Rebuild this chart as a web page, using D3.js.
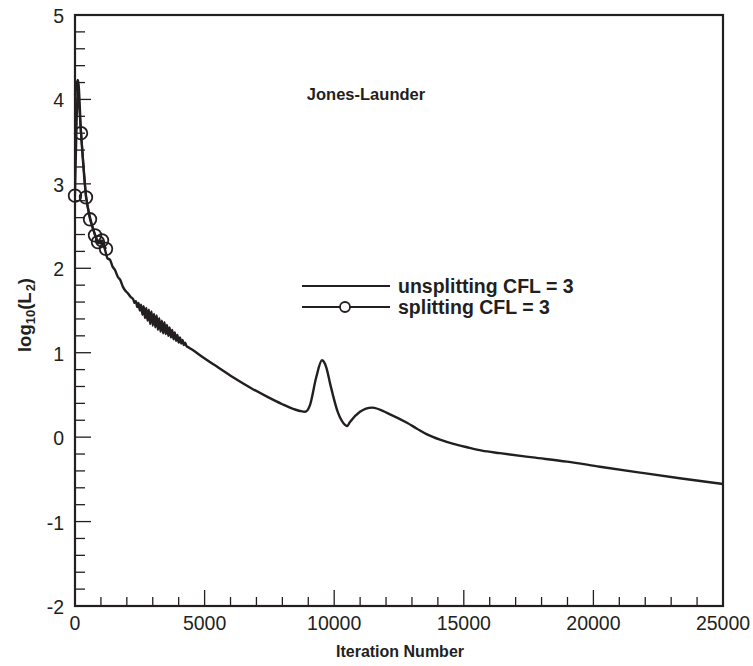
<!DOCTYPE html>
<html>
<head>
<meta charset="utf-8">
<script src="https://cdn.jsdelivr.net/npm/d3@7"></script>
<style>
  body { margin: 0; background: #fff; }
  text { font-family: "Liberation Sans", Arial, sans-serif; fill: #231f20; }
</style>
</head>
<body>
<script>
// iteration, log10(L2)
let unsplitIter = [0, 115, 231, 424, 579, 772, 900, 1042, 1157, 1250, 1350, 1450, 1543, 1650, 1750,
  1850, 1929, 2050, 2150,
  2250, 2300, 2350, 2400, 2450, 2500, 2550, 2600, 2650, 2700, 2750, 2800, 2850, 2900, 2950,
  3000, 3050, 3100, 3150, 3200, 3250, 3300, 3350, 3400, 3450, 3500, 3550, 3600, 3650, 3700,
  3750, 3800, 3850, 3900, 3950, 4000, 4050, 4100, 4150, 4200, 4250, 4300, 4400, 4600,
  4823, 5500, 6096, 6800, 7407, 8000, 8295, 8681, 8874, 9066, 9300, 9529, 9700, 9838, 10146, 10400,
  10493, 10609, 10995, 11459, 12153, 12808, 13194, 13600, 14081, 14600, 15123, 15700, 16396,
  17669, 18981, 20250, 21800, 23400, 25000];
let unsplitVal = [4.05, 4.23, 3.62, 2.86, 2.6, 2.4, 2.3, 2.3, 2.22, 2.12, 2.1, 2.02, 1.98, 1.9, 1.86,
  1.78, 1.74, 1.7, 1.66,
  1.63, 1.59, 1.61, 1.54, 1.59, 1.5, 1.57, 1.45, 1.55, 1.41, 1.53, 1.38, 1.51, 1.34, 1.49,
  1.32, 1.46, 1.3, 1.44, 1.27, 1.41, 1.25, 1.38, 1.23, 1.36, 1.22, 1.33, 1.2, 1.3, 1.18,
  1.27, 1.16, 1.24, 1.14, 1.21, 1.12, 1.18, 1.11, 1.15, 1.09, 1.12, 1.08, 1.06, 1.02,
  0.97, 0.83, 0.71, 0.58, 0.48, 0.39, 0.35, 0.31, 0.3, 0.38, 0.7, 0.91, 0.82, 0.64, 0.29, 0.15,
  0.13, 0.18, 0.3, 0.35, 0.27, 0.17, 0.1, 0.03, -0.03, -0.08, -0.12, -0.16, -0.19,
  -0.24, -0.29, -0.35, -0.42, -0.49, -0.555];

let splitIter = [0, 100, 231, 424, 579, 772, 887, 1042, 1196];
let splitVal = [2.86, 4.2, 3.6, 2.84, 2.58, 2.39, 2.31, 2.33, 2.23];
let splitMarked = [0, 231, 424, 579, 772, 887, 1042, 1196];

let xTicks = [0, 5000, 10000, 15000, 20000, 25000];
let yTicks = [-2, -1, 0, 1, 2, 3, 4, 5];
let legendLabels = ["unsplitting CFL = 3", "splitting CFL = 3"];

let width = 753, height = 666;
let mLeft = 75, mRight = 723, mTop = 15, mBottom = 606;

let svg = d3.select("body").append("svg")
  .attr("width", width)
  .attr("height", height);

let x = d3.scaleLinear().domain([0, 25000]).range([mLeft, mRight]);
let y = d3.scaleLinear().domain([-2, 5]).range([mBottom, mTop]);

// minor ticks
let xMinor = d3.range(0, 25001, 1000);
let yMinor = d3.range(-2, 5.001, 0.2);

let ink = "#231f20";

svg.append("g").selectAll("line")
  .data(xMinor)
  .enter().append("line")
  .attr("x1", d => x(d)).attr("x2", d => x(d))
  .attr("y1", mBottom).attr("y2", d => xTicks.includes(d) ? mBottom - 16 : mBottom - 9)
  .attr("stroke", ink).attr("stroke-width", 1.3);

svg.append("g").selectAll("line")
  .data(yMinor)
  .enter().append("line")
  .attr("y1", d => y(d)).attr("y2", d => y(d))
  .attr("x1", mLeft).attr("x2", d => Math.abs(d - Math.round(d)) < 1e-6 ? mLeft + 16 : mLeft + 10)
  .attr("stroke", ink).attr("stroke-width", 1.3);

// frame
svg.append("rect")
  .attr("x", mLeft).attr("y", mTop)
  .attr("width", mRight - mLeft).attr("height", mBottom - mTop)
  .attr("fill", "none").attr("stroke", ink).attr("stroke-width", 2.2);

// tick labels
svg.append("g").selectAll("text")
  .data(xTicks)
  .enter().append("text")
  .attr("x", d => x(d)).attr("y", mBottom + 24)
  .attr("text-anchor", "middle")
  .attr("font-size", 19.5)
  .text(d => d);

svg.append("g").selectAll("text")
  .data(yTicks)
  .enter().append("text")
  .attr("x", mLeft - 11).attr("y", d => y(d) + 8)
  .attr("text-anchor", "end")
  .attr("font-size", 19.5)
  .text(d => d);

// axis titles
svg.append("text")
  .attr("x", (mLeft + mRight) / 2 + 1).attr("y", 657)
  .attr("text-anchor", "middle")
  .attr("font-size", 16).attr("font-weight", "bold")
  .text("Iteration Number");

let ylab = svg.append("text")
  .attr("transform", "translate(31,315) rotate(-90)")
  .attr("text-anchor", "middle")
  .attr("font-size", 18.5).attr("font-weight", "bold");
ylab.append("tspan").text("log");
ylab.append("tspan").attr("font-size", 13).attr("dy", 4).text("10");
ylab.append("tspan").attr("dy", -4).text("(L");
ylab.append("tspan").attr("font-size", 13).attr("dy", 4).attr("dx", 1).text("2");
ylab.append("tspan").attr("dy", -4).text(")");

svg.append("text")
  .attr("x", 366).attr("y", 100)
  .attr("text-anchor", "middle")
  .attr("font-size", 16.5).attr("font-weight", "bold")
  .text("Jones-Launder");

// curves
let line = d3.line()
  .curve(d3.curveMonotoneX)
  .x(d => x(d[0]))
  .y(d => y(d[1]));

let unsplit = unsplitIter.map((d, i) => [d, unsplitVal[i]]);
let split = splitIter.map((d, i) => [d, splitVal[i]]);

svg.append("path")
  .datum(unsplit)
  .attr("d", line)
  .attr("fill", "none").attr("stroke", ink).attr("stroke-width", 2.4)
  .attr("stroke-linejoin", "round");

svg.append("path")
  .datum(split)
  .attr("d", line.curve(d3.curveLinear))
  .attr("fill", "none").attr("stroke", ink).attr("stroke-width", 2.2)
  .attr("stroke-linejoin", "round");

svg.append("g").selectAll("circle")
  .data(split.filter(d => splitMarked.includes(d[0])))
  .enter().append("circle")
  .attr("cx", d => x(d[0])).attr("cy", d => y(d[1]))
  .attr("r", 6.3)
  .attr("fill", "none").attr("stroke", ink).attr("stroke-width", 1.8);

// legend
let legend = svg.append("g");
legendLabels.forEach(function(label, i) {
  let ly = 286 + i * 21;
  legend.append("line")
    .attr("x1", 302).attr("x2", 390)
    .attr("y1", ly).attr("y2", ly)
    .attr("stroke", ink).attr("stroke-width", 2);
  if (i === 1) {
    legend.append("circle")
      .attr("cx", 345).attr("cy", ly).attr("r", 5)
      .attr("fill", "#fff").attr("stroke", ink).attr("stroke-width", 1.8);
  }
  legend.append("text")
    .attr("x", 398).attr("y", ly + 7)
    .attr("font-size", 19.5).attr("font-weight", "bold")
    .text(label);
});
</script>
</body>
</html>
